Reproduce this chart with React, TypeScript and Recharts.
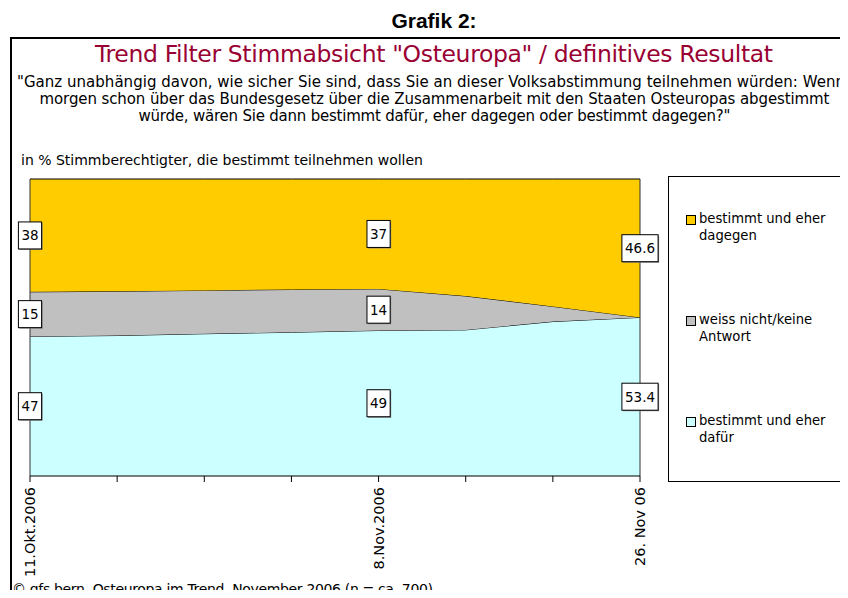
import React from 'react';
import {
  ComposedChart,
  Area,
  Line,
  XAxis,
  YAxis,
  Legend,
  LabelList,
  ReferenceLine,
} from 'recharts';

// survey dates (only three carry a label on the axis)
const tickLabels = ['11.Okt.2006', '', '', '', '8.Nov.2006', '', '', '26. Nov 06'];

// in % of voters who certainly want to take part
const dafuer = [47, 47.3, 47.9, 48.4, 49, 49.2, 52.0, 53.4];
const weissNicht = [15, 14.9, 14.6, 14.4, 14, 11.4, 5.1, 0];
const dagegen = [38, 37.8, 37.5, 37.2, 37, 39.4, 42.9, 46.6];

const seriesNames = ['bestimmt und eher dafür', 'weiss nicht/keine Antwort', 'bestimmt und eher dagegen'];
const seriesColors = ['#CCFFFF', '#C0C0C0', '#FFCC00'];

// points that get a value box
const labelledPoints = [0, 4, 7];

const subtitleLines = [
  '"Ganz unabhängig davon, wie sicher Sie sind, dass Sie an dieser Volksabstimmung teilnehmen würden: Wenn',
  'morgen schon über das Bundesgesetz über die Zusammenarbeit mit den Staaten Osteuropas abgestimmt',
  'würde, wären Sie dann bestimmt dafür, eher dagegen oder bestimmt dagegen?"',
];

const data = tickLabels.map((label, i) => ({
  idx: i,
  label,
  dafuer: dafuer[i],
  weiss: weissNicht[i],
  dagegen: dagegen[i],
  // middle of each band, used to place the value boxes
  dafuerMid: dafuer[i] / 2,
  weissMid: dafuer[i] + weissNicht[i] / 2,
  dagegenMid: dafuer[i] + weissNicht[i] + dagegen[i] / 2,
}));

const FONT = '"DejaVu Sans", Verdana, sans-serif';

const BoxLabel = (props: any) => {
  const { x, y, value, index } = props;
  if (!labelledPoints.includes(index) || !value) return null;
  const txt = String(value);
  let w = 6;
  for (const ch of txt) w += ch === '.' ? 4.4 : 8.6;
  const h = 27;
  return (
    <g>
      <rect x={x - w / 2 + 1} y={y - h / 2 + 1} width={w} height={h} fill="#808080" />
      <rect x={x - w / 2} y={y - h / 2} width={w} height={h} fill="#fff" stroke="#000" strokeWidth={1} />
      <text
        x={x}
        y={y}
        textAnchor="middle"
        dominantBaseline="central"
        fontFamily={FONT}
        fontSize={13.5}
        fill="#000"
      >
        {txt}
      </text>
    </g>
  );
};

const DateTick = (props: any) => {
  const { x, y, payload } = props;
  const label = tickLabels[payload.value];
  if (!label) return <g />;
  return (
    <g transform={`translate(${x},${y + 3})`}>
      <text
        transform="rotate(-90)"
        textAnchor="end"
        dominantBaseline="central"
        fontFamily={FONT}
        fontSize={14.5}
        fill="#000"
      >
        {label}
      </text>
    </g>
  );
};

const LegendBox = () => {
  const order = [2, 1, 0];
  return (
    <div
      style={{
        width: 172,
        height: 304,
        border: '1px solid #000',
        background: '#fff',
        position: 'relative',
        fontFamily: FONT,
        fontSize: 13.2,
        lineHeight: '17px',
        color: '#000',
      }}
    >
      {order.map((s, k) => (
        <div key={s} style={{ position: 'absolute', left: 17, top: 38 + k * 101 }}>
          <div
            style={{
              position: 'absolute',
              left: 0,
              top: 0,
              width: 8,
              height: 8,
              background: seriesColors[s],
              border: '1px solid #000',
            }}
          />
          <div style={{ position: 'absolute', left: 13, top: -5, width: 146, textAlign: 'left' }}>
            {seriesNames[s]}
          </div>
        </div>
      ))}
    </div>
  );
};

export default function App() {
  return (
    <div
      style={{
        position: 'relative',
        width: 848,
        height: 598,
        margin: -8,
        overflow: 'hidden',
        background: '#fff',
      }}
    >
      <ComposedChart
        width={848}
        height={598}
        data={data}
        margin={{ top: 179, right: 208, bottom: 22, left: 30 }}
      >
        <XAxis
          dataKey="idx"
          type="number"
          domain={[0, 7]}
          ticks={[0, 1, 2, 3, 4, 5, 6, 7]}
          interval={0}
          height={100}
          tickSize={6}
          tick={<DateTick />}
          stroke="#000"
          axisLine={{ stroke: '#000' }}
          tickLine={{ stroke: '#000' }}
        />
        <YAxis hide domain={[0, 100]} />
        <Area
          type="linear"
          dataKey="dafuer"
          name={seriesNames[0]}
          stackId="s"
          fill={seriesColors[0]}
          fillOpacity={1}
          stroke="#000"
          strokeWidth={1}
          isAnimationActive={false}
        />
        <Area
          type="linear"
          dataKey="weiss"
          name={seriesNames[1]}
          stackId="s"
          fill={seriesColors[1]}
          fillOpacity={1}
          stroke="#000"
          strokeWidth={1}
          isAnimationActive={false}
        />
        <Area
          type="linear"
          dataKey="dagegen"
          name={seriesNames[2]}
          stackId="s"
          fill={seriesColors[2]}
          fillOpacity={1}
          stroke="#000"
          strokeWidth={1}
          isAnimationActive={false}
        />
        <ReferenceLine x={0} stroke="#333" />
        <ReferenceLine x={7} stroke="#333" />
        <Line dataKey="dafuerMid" stroke="none" dot={false} activeDot={false} legendType="none" isAnimationActive={false}>
          <LabelList dataKey="dafuer" content={<BoxLabel />} />
        </Line>
        <Line dataKey="weissMid" stroke="none" dot={false} activeDot={false} legendType="none" isAnimationActive={false}>
          <LabelList dataKey="weiss" content={<BoxLabel />} />
        </Line>
        <Line dataKey="dagegenMid" stroke="none" dot={false} activeDot={false} legendType="none" isAnimationActive={false}>
          <LabelList dataKey="dagegen" content={<BoxLabel />} />
        </Line>
        <Legend
          layout="vertical"
          align="center"
          verticalAlign="middle"
          content={<LegendBox />}
          wrapperStyle={{ position: 'absolute', left: 668, top: 176, width: 174, height: 306 }}
        />
      </ComposedChart>

      <svg
        width={848}
        height={598}
        style={{ position: 'absolute', left: 0, top: 0, pointerEvents: 'none' }}
      >
        <line x1={10} y1={38} x2={848} y2={38} stroke="#000" strokeWidth={2} />
        <line x1={11} y1={37} x2={11} y2={598} stroke="#000" strokeWidth={2} />
        <text
          x={434}
          y={28}
          textAnchor="middle"
          fontFamily='"Liberation Sans", Arial, sans-serif'
          fontWeight="bold"
          fontSize={21}
          fill="#000"
        >
          Grafik 2:
        </text>
        <text
          x={434}
          y={62}
          textAnchor="middle"
          fontFamily={FONT}
          fontSize={23.5}
          fill="#990033"
          textLength={678}
        >
          Trend Filter Stimmabsicht "Osteuropa" / definitives Resultat
        </text>
        {subtitleLines.map((line, i) => (
          <text
            key={i}
            x={i === 0 ? 17 : 434.5}
            y={86.5 + i * 17}
            textAnchor={i === 0 ? 'start' : 'middle'}
            fontFamily={FONT}
            fontSize={15}
            fill="#000"
            textLength={i === 0 ? 828 : i === 1 ? 790 : 592}
          >
            {line}
          </text>
        ))}
        <text x={21} y={165} fontFamily={FONT} fontSize={14} fill="#000">
          in % Stimmberechtigter, die bestimmt teilnehmen wollen
        </text>
        <text x={12} y={594} fontFamily={FONT} fontSize={14} fill="#000" textLength={421}>
          © gfs.bern, Osteuropa im Trend, November 2006 (n = ca. 700)
        </text>
      </svg>
    </div>
  );
}
